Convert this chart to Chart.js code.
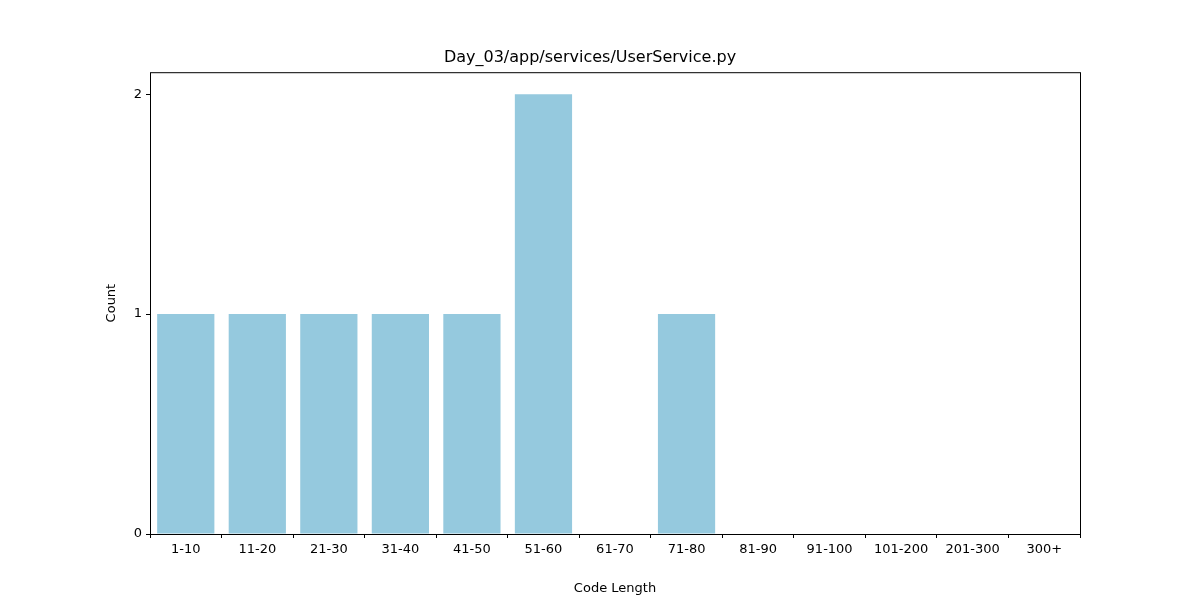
<!DOCTYPE html>
<html>
<head>
<meta charset="utf-8">
<script src="https://cdn.jsdelivr.net/npm/chart.js@4"></script>
<style>
  body { margin: 0; background: #fff; }
</style>
</head>
<body>
<canvas id="chart" width="1200" height="600"></canvas>
<script>
// Data
const categories = ['1-10', '11-20', '21-30', '31-40', '41-50', '51-60', '61-70', '71-80', '81-90', '91-100', '101-200', '201-300', '300+'];
const counts = [1, 1, 1, 1, 1, 2, 0, 1, 0, 0, 0, 0, 0];
const yTicks = [0, 1, 2];

const font = { family: 'DejaVu Sans', size: 13 };

// Draw a full box around the plot area, like matplotlib
const frame = {
    id: 'frame',
    afterDraw(chart) {
        const { ctx, chartArea: a } = chart;
        ctx.save();
        ctx.strokeStyle = '#000';
        ctx.lineWidth = 1;
        ctx.strokeRect(a.left + 0.5, a.top + 0.5, a.right - a.left, a.bottom - a.top);
        ctx.restore();
    }
};

new Chart(document.getElementById('chart'), {
    type: 'bar',
    data: {
        labels: categories,
        datasets: [{
            data: counts,
            backgroundColor: '#95c9de',
            categoryPercentage: 1,
            barPercentage: 0.8
        }]
    },
    options: {
        responsive: false,
        animation: false,
        layout: { padding: { left: 100, right: 120, top: 0, bottom: 0 } },
        plugins: {
            legend: { display: false },
            tooltip: { enabled: false },
            title: {
                display: true,
                text: 'Day_03/app/services/UserService.py',
                color: '#000',
                font: { family: 'DejaVu Sans', size: 16, weight: 'normal' },
                padding: { top: 48, bottom: 5 }
            }
        },
        scales: {
            x: {
                grid: { display: true, drawOnChartArea: false, color: '#000', tickLength: 4 },
                border: { display: false },
                ticks: { color: '#000', font: font, maxRotation: 0, padding: 4 },
                title: { display: true, text: 'Code Length', color: '#000', font: font, padding: { top: 2 } },
                afterFit(scale) { scale.height = 66; }
            },
            y: {
                min: 0,
                max: 2.1,
                afterBuildTicks(scale) { scale.ticks = yTicks.map(v => ({ value: v })); },
                grid: { display: true, drawOnChartArea: false, color: '#000', tickLength: 4 },
                border: { display: false },
                ticks: { color: '#000', font: font, padding: 4 },
                title: { display: true, text: 'Count', color: '#000', font: font, padding: { bottom: 8 } },
                afterFit(scale) { scale.width = 50; }
            }
        }
    },
    plugins: [frame]
});
</script>
</body>
</html>
